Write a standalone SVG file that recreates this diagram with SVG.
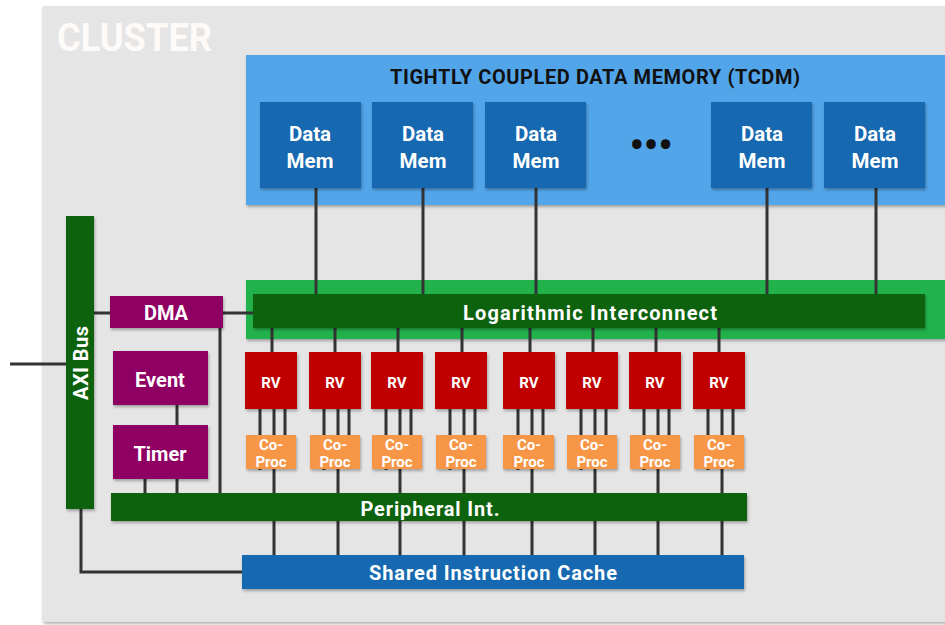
<svg xmlns="http://www.w3.org/2000/svg" width="945" height="625" viewBox="0 0 945 625">
<defs>
<filter id="sh" x="-10%" y="-10%" width="130%" height="140%"><feDropShadow dx="1" dy="2" stdDeviation="1.5" flood-color="#000" flood-opacity="0.3"/></filter>
<style>
text{font-family:Roboto,"Liberation Sans",sans-serif;font-weight:700;text-anchor:middle;fill:#fff}
.ln{stroke:#333;stroke-width:3;fill:none}
.mem{fill:#1469b0}
.rv{fill:#c00000}
.cp{fill:#f79646}
.pur{fill:#8f0064}
.dg{fill:#0e620f}
.t20{font-size:20px}
.t15{font-size:15px}
.t21{font-size:20.5px}
</style>
</defs>
<rect width="945" height="625" fill="#fff"/>
<g id="cluster"><rect x="42" y="6" width="920" height="616" rx="3" fill="#e5e5e5" filter="url(#sh)"/>
<text x="57" y="51" textLength="155" lengthAdjust="spacingAndGlyphs" style="font-size:38px;text-anchor:start;fill:#fdfaf8">CLUSTER</text></g>

<g id="tcdm"><rect x="246" y="55" width="710" height="150" fill="#52a5e9" filter="url(#sh)"/>
<text x="595" y="84" textLength="410" style="font-size:20px;fill:#111">TIGHTLY COUPLED DATA MEMORY (TCDM)</text>
<text x="651" y="159" style="font-size:40px;fill:#111">•••</text></g>

<g id="xbar-bg"><rect x="246" y="280" width="710" height="59" fill="#21b24b" filter="url(#sh)"/></g>

<g id="connectors">
<path class="ln" d="M316 188V296M423 188V296M536 188V296M767 188V296M876 188V296"/>
<path class="ln" d="M10 364H66M94 313H110M223 313H255M220 328V494M177 405V425M145 479V494M177 479V494M81 509V572H242"/>
<path class="ln" d="M272 327V352M335 327V352M398 327V352M462 327V352M530 327V352M593 327V352M656 327V352M719 327V352"/>
<path class="ln" d="M260 409V470M274 409V556M285 409V436M324 409V470M338 409V556M349 409V436M386 409V470M400 409V556M411 409V436M450 409V470M464 409V556M475 409V436M518 409V470M532 409V556M543 409V436M581 409V470M595 409V556M606 409V436M644 409V470M658 409V556M669 409V436M708 409V470M722 409V556M733 409V436"/>
</g>

<g id="mem1"><rect class="mem" x="260" y="102" width="101" height="86" filter="url(#sh)"/><text class="t21" x="310" y="141">Data</text><text class="t21" x="310" y="168">Mem</text></g>
<g id="mem2"><rect class="mem" x="372" y="102" width="101" height="86" filter="url(#sh)"/><text class="t21" x="423" y="141">Data</text><text class="t21" x="423" y="168">Mem</text></g>
<g id="mem3"><rect class="mem" x="485" y="102" width="101" height="86" filter="url(#sh)"/><text class="t21" x="536" y="141">Data</text><text class="t21" x="536" y="168">Mem</text></g>
<g id="mem4"><rect class="mem" x="711" y="102" width="101" height="86" filter="url(#sh)"/><text class="t21" x="762" y="141">Data</text><text class="t21" x="762" y="168">Mem</text></g>
<g id="mem5"><rect class="mem" x="824" y="102" width="101" height="86" filter="url(#sh)"/><text class="t21" x="875" y="141">Data</text><text class="t21" x="875" y="168">Mem</text></g>

<g id="interconnect"><rect class="dg" x="253" y="294" width="672" height="34" filter="url(#sh)"/><text x="590" y="320" textLength="254" style="font-size:20px">Logarithmic Interconnect</text></g>

<g id="axi"><rect class="dg" x="66" y="216" width="28" height="293" filter="url(#sh)"/><text class="t20" transform="translate(88 363) rotate(-90)" textLength="74">AXI Bus</text></g>
<g id="dma"><rect class="pur" x="110" y="296" width="113" height="32" filter="url(#sh)"/><text class="t20" x="166" y="320">DMA</text></g>
<g id="event"><rect class="pur" x="113" y="351" width="95" height="54" filter="url(#sh)"/><text class="t20" x="160" y="387">Event</text></g>
<g id="timer"><rect class="pur" x="113" y="425" width="95" height="54" filter="url(#sh)"/><text class="t20" x="160" y="461">Timer</text></g>

<g id="rv1"><rect class="rv" x="245" y="352" width="52" height="57" filter="url(#sh)"/><text class="t15" x="271" y="388">RV</text></g>
<g id="rv2"><rect class="rv" x="309" y="352" width="52" height="57" filter="url(#sh)"/><text class="t15" x="335" y="388">RV</text></g>
<g id="rv3"><rect class="rv" x="371" y="352" width="52" height="57" filter="url(#sh)"/><text class="t15" x="397" y="388">RV</text></g>
<g id="rv4"><rect class="rv" x="435" y="352" width="52" height="57" filter="url(#sh)"/><text class="t15" x="461" y="388">RV</text></g>
<g id="rv5"><rect class="rv" x="503" y="352" width="52" height="57" filter="url(#sh)"/><text class="t15" x="529" y="388">RV</text></g>
<g id="rv6"><rect class="rv" x="566" y="352" width="52" height="57" filter="url(#sh)"/><text class="t15" x="592" y="388">RV</text></g>
<g id="rv7"><rect class="rv" x="629" y="352" width="52" height="57" filter="url(#sh)"/><text class="t15" x="655" y="388">RV</text></g>
<g id="rv8"><rect class="rv" x="693" y="352" width="52" height="57" filter="url(#sh)"/><text class="t15" x="719" y="388">RV</text></g>

<g id="cp1"><rect class="cp" x="246" y="435" width="50" height="34" filter="url(#sh)"/><text class="t15" x="271" y="450">Co-</text><text class="t15" x="271" y="467">Proc</text></g>
<g id="cp2"><rect class="cp" x="310" y="435" width="50" height="34" filter="url(#sh)"/><text class="t15" x="335" y="450">Co-</text><text class="t15" x="335" y="467">Proc</text></g>
<g id="cp3"><rect class="cp" x="372" y="435" width="50" height="34" filter="url(#sh)"/><text class="t15" x="397" y="450">Co-</text><text class="t15" x="397" y="467">Proc</text></g>
<g id="cp4"><rect class="cp" x="436" y="435" width="50" height="34" filter="url(#sh)"/><text class="t15" x="461" y="450">Co-</text><text class="t15" x="461" y="467">Proc</text></g>
<g id="cp5"><rect class="cp" x="503" y="435" width="51" height="34" filter="url(#sh)"/><text class="t15" x="529" y="450">Co-</text><text class="t15" x="529" y="467">Proc</text></g>
<g id="cp6"><rect class="cp" x="567" y="435" width="50" height="34" filter="url(#sh)"/><text class="t15" x="592" y="450">Co-</text><text class="t15" x="592" y="467">Proc</text></g>
<g id="cp7"><rect class="cp" x="630" y="435" width="50" height="34" filter="url(#sh)"/><text class="t15" x="655" y="450">Co-</text><text class="t15" x="655" y="467">Proc</text></g>
<g id="cp8"><rect class="cp" x="694" y="435" width="50" height="34" filter="url(#sh)"/><text class="t15" x="719" y="450">Co-</text><text class="t15" x="719" y="467">Proc</text></g>

<g id="periph"><rect class="dg" x="111" y="493" width="636" height="28" filter="url(#sh)"/><text x="430" y="516" textLength="139" style="font-size:20px">Peripheral Int.</text></g>
<g id="icache"><rect class="mem" x="242" y="555" width="502" height="34" filter="url(#sh)"/><text x="493" y="580" textLength="248" style="font-size:20px">Shared Instruction Cache</text></g>
</svg>
